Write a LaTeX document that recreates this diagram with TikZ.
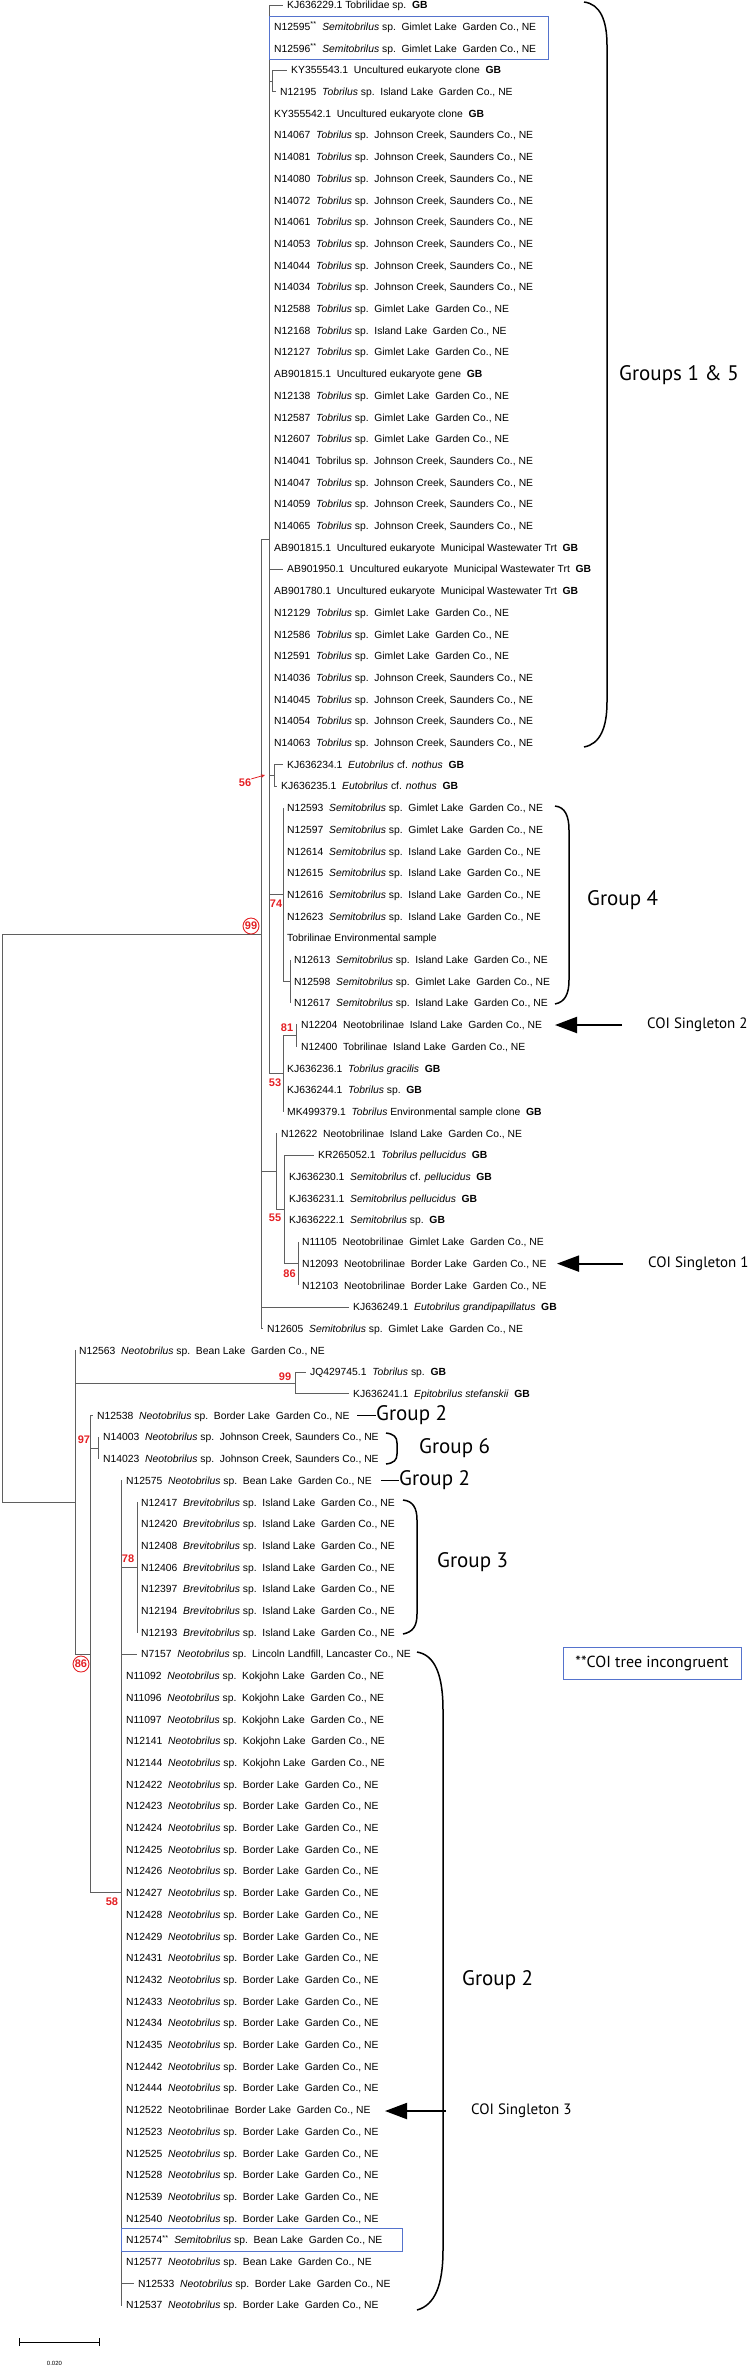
\documentclass[tikz,border=0pt]{standalone}
\usepackage{fontspec}
\setmainfont{Liberation Sans}
\newfontfamily\grpfont{PT Sans}
\usetikzlibrary{arrows.meta}
\definecolor{bsred}{RGB}{228,32,36}
\definecolor{boxblue}{RGB}{85,115,205}
\definecolor{treegray}{RGB}{95,95,95}
\newcommand\gp{\hspace{0.55em}}
\newcommand\sTob{\textit{Tobrilus} sp.}
\newcommand\sSemi{\textit{Semitobrilus} sp.}
\newcommand\sNeo{\textit{Neotobrilus} sp.}
\newcommand\sBrev{\textit{Brevitobrilus} sp.}
\newcommand\lGL{Gimlet Lake\gp Garden Co., NE}
\newcommand\lIL{Island Lake\gp Garden Co., NE}
\newcommand\lJC{Johnson Creek, Saunders Co., NE}
\newcommand\lBL{Border Lake\gp Garden Co., NE}
\newcommand\lBean{Bean Lake\gp Garden Co., NE}
\newcommand\lKok{Kokjohn Lake\gp Garden Co., NE}
\newcommand\GB{\gp\textbf{GB}}
\pgfmathdeclarefunction{rowy}{1}{\pgfmathparse{5+21.7*(#1-1)}}
\newcommand\lf[3]{\node[leaf] (l#1) at (#2,{rowy(#1)}) {#3};}
\begin{document}
\begin{tikzpicture}[x=1pt,y=-1pt,
  leaf/.style={anchor=west, inner sep=0pt, text height=7.4pt, text depth=0pt, font=\fontsize{10.35}{12}\selectfont},
  br/.style={draw=treegray, line width=0.9pt},
  tobr/.style={br, shorten >=4pt},
  bs/.style={text=bsred, font=\bfseries\fontsize{11}{11}\selectfont, inner sep=0pt},
  bsc/.style={bs, circle, draw=bsred, line width=0.9pt, fill=white, minimum size=16pt, inner sep=0pt},
  brace/.style={draw=black, line width=1.5pt},
  grp/.style={anchor=west, inner sep=0pt, font=\grpfont\fontsize{21}{21}\selectfont},
  coi/.style={anchor=west, inner sep=0pt, font=\grpfont\fontsize{15}{15}\selectfont},
  coiarrow/.style={line width=2pt, -{Triangle[length=22pt,width=16pt]}, shorten <=25pt},
  blbox/.style={draw=boxblue, line width=0.9pt}]
\useasboundingbox (0,0) rectangle (747,2366);
% ---------- leaves ----------
\lf{1}{287}{KJ636229.1 Tobrilidae sp.\GB}
\lf{2}{274}{N12595\textsuperscript{**}\gp\sSemi\gp\lGL}
\lf{3}{274}{N12596\textsuperscript{**}\gp\sSemi\gp\lGL}
\lf{4}{291}{KY355543.1\gp Uncultured eukaryote clone\GB}
\lf{5}{280}{N12195\gp\sTob\gp\lIL}
\lf{6}{274}{KY355542.1\gp Uncultured eukaryote clone\GB}
\lf{7}{274}{N14067\gp\sTob\gp\lJC}
\lf{8}{274}{N14081\gp\sTob\gp\lJC}
\lf{9}{274}{N14080\gp\sTob\gp\lJC}
\lf{10}{274}{N14072\gp\sTob\gp\lJC}
\lf{11}{274}{N14061\gp\sTob\gp\lJC}
\lf{12}{274}{N14053\gp\sTob\gp\lJC}
\lf{13}{274}{N14044\gp\sTob\gp\lJC}
\lf{14}{274}{N14034\gp\sTob\gp\lJC}
\lf{15}{274}{N12588\gp\sTob\gp\lGL}
\lf{16}{274}{N12168\gp\sTob\gp\lIL}
\lf{17}{274}{N12127\gp\sTob\gp\lGL}
\lf{18}{274}{AB901815.1\gp Uncultured eukaryote gene\GB}
\lf{19}{274}{N12138\gp\sTob\gp\lGL}
\lf{20}{274}{N12587\gp\sTob\gp\lGL}
\lf{21}{274}{N12607\gp\sTob\gp\lGL}
\lf{22}{274}{N14041\gp Tobrilus sp.\gp\lJC}
\lf{23}{274}{N14047\gp\sTob\gp\lJC}
\lf{24}{274}{N14059\gp\sTob\gp\lJC}
\lf{25}{274}{N14065\gp\sTob\gp\lJC}
\lf{26}{274}{AB901815.1\gp Uncultured eukaryote\gp Municipal Wastewater Trt\GB}
\lf{27}{287}{AB901950.1\gp Uncultured eukaryote\gp Municipal Wastewater Trt\GB}
\lf{28}{274}{AB901780.1\gp Uncultured eukaryote\gp Municipal Wastewater Trt\GB}
\lf{29}{274}{N12129\gp\sTob\gp\lGL}
\lf{30}{274}{N12586\gp\sTob\gp\lGL}
\lf{31}{274}{N12591\gp\sTob\gp\lGL}
\lf{32}{274}{N14036\gp\sTob\gp\lJC}
\lf{33}{274}{N14045\gp\sTob\gp\lJC}
\lf{34}{274}{N14054\gp\sTob\gp\lJC}
\lf{35}{274}{N14063\gp\sTob\gp\lJC}
\lf{36}{287}{KJ636234.1\gp\textit{Eutobrilus} cf. \textit{nothus}\GB}
\lf{37}{281}{KJ636235.1\gp\textit{Eutobrilus} cf. \textit{nothus}\GB}
\lf{38}{287}{N12593\gp\sSemi\gp\lGL}
\lf{39}{287}{N12597\gp\sSemi\gp\lGL}
\lf{40}{287}{N12614\gp\sSemi\gp\lIL}
\lf{41}{287}{N12615\gp\sSemi\gp\lIL}
\lf{42}{287}{N12616\gp\sSemi\gp\lIL}
\lf{43}{287}{N12623\gp\sSemi\gp\lIL}
\lf{44}{287}{Tobrilinae Environmental sample}
\lf{45}{294}{N12613\gp\sSemi\gp\lIL}
\lf{46}{294}{N12598\gp\sSemi\gp\lGL}
\lf{47}{294}{N12617\gp\sSemi\gp\lIL}
\lf{48}{301}{N12204\gp Neotobrilinae\gp\lIL}
\lf{49}{301}{N12400\gp Tobrilinae\gp\lIL}
\lf{50}{287}{KJ636236.1\gp\textit{Tobrilus gracilis}\GB}
\lf{51}{287}{KJ636244.1\gp\sTob\GB}
\lf{52}{287}{MK499379.1\gp\textit{Tobrilus} Environmental sample clone\GB}
\lf{53}{281}{N12622\gp Neotobrilinae\gp\lIL}
\lf{54}{318}{KR265052.1\gp\textit{Tobrilus pellucidus}\GB}
\lf{55}{289}{KJ636230.1\gp\textit{Semitobrilus} cf. \textit{pellucidus}\GB}
\lf{56}{289}{KJ636231.1\gp\textit{Semitobrilus pellucidus}\GB}
\lf{57}{289}{KJ636222.1\gp\sSemi\GB}
\lf{58}{302}{N11105\gp Neotobrilinae\gp\lGL}
\lf{59}{302}{N12093\gp Neotobrilinae\gp\lBL}
\lf{60}{302}{N12103\gp Neotobrilinae\gp\lBL}
\lf{61}{353}{KJ636249.1\gp\textit{Eutobrilus grandipapillatus}\GB}
\lf{62}{267}{N12605\gp\sSemi\gp\lGL}
\lf{63}{79}{N12563\gp\sNeo\gp\lBean}
\lf{64}{310}{JQ429745.1\gp\sTob\GB}
\lf{65}{353}{KJ636241.1\gp\textit{Epitobrilus stefanskii}\GB}
\lf{66}{97}{N12538\gp\sNeo\gp\lBL}
\lf{67}{103}{N14003\gp\sNeo\gp\lJC}
\lf{68}{103}{N14023\gp\sNeo\gp\lJC}
\lf{69}{126}{N12575\gp\sNeo\gp\lBean}
\lf{70}{141}{N12417\gp\sBrev\gp\lIL}
\lf{71}{141}{N12420\gp\sBrev\gp\lIL}
\lf{72}{141}{N12408\gp\sBrev\gp\lIL}
\lf{73}{141}{N12406\gp\sBrev\gp\lIL}
\lf{74}{141}{N12397\gp\sBrev\gp\lIL}
\lf{75}{141}{N12194\gp\sBrev\gp\lIL}
\lf{76}{141}{N12193\gp\sBrev\gp\lIL}
\lf{77}{141}{N7157\gp\sNeo\gp Lincoln Landfill, Lancaster Co., NE}
\lf{78}{126}{N11092\gp\sNeo\gp\lKok}
\lf{79}{126}{N11096\gp\sNeo\gp\lKok}
\lf{80}{126}{N11097\gp\sNeo\gp\lKok}
\lf{81}{126}{N12141\gp\sNeo\gp\lKok}
\lf{82}{126}{N12144\gp\sNeo\gp\lKok}
\lf{83}{126}{N12422\gp\sNeo\gp\lBL}
\lf{84}{126}{N12423\gp\sNeo\gp\lBL}
\lf{85}{126}{N12424\gp\sNeo\gp\lBL}
\lf{86}{126}{N12425\gp\sNeo\gp\lBL}
\lf{87}{126}{N12426\gp\sNeo\gp\lBL}
\lf{88}{126}{N12427\gp\sNeo\gp\lBL}
\lf{89}{126}{N12428\gp\sNeo\gp\lBL}
\lf{90}{126}{N12429\gp\sNeo\gp\lBL}
\lf{91}{126}{N12431\gp\sNeo\gp\lBL}
\lf{92}{126}{N12432\gp\sNeo\gp\lBL}
\lf{93}{126}{N12433\gp\sNeo\gp\lBL}
\lf{94}{126}{N12434\gp\sNeo\gp\lBL}
\lf{95}{126}{N12435\gp\sNeo\gp\lBL}
\lf{96}{126}{N12442\gp\sNeo\gp\lBL}
\lf{97}{126}{N12444\gp\sNeo\gp\lBL}
\lf{98}{126}{N12522\gp Neotobrilinae\gp\lBL}
\lf{99}{126}{N12523\gp\sNeo\gp\lBL}
\lf{100}{126}{N12525\gp\sNeo\gp\lBL}
\lf{101}{126}{N12528\gp\sNeo\gp\lBL}
\lf{102}{126}{N12539\gp\sNeo\gp\lBL}
\lf{103}{126}{N12540\gp\sNeo\gp\lBL}
\lf{104}{126}{N12574\textsuperscript{**}\gp\sSemi\gp\lBean}
\lf{105}{126}{N12577\gp\sNeo\gp\lBean}
\lf{106}{138}{N12533\gp\sNeo\gp\lBL}
\lf{107}{126}{N12537\gp\sNeo\gp\lBL}
% ---------- internal nodes ----------
\coordinate (root) at (2,1218.15);
\coordinate (n99) at (261,934.0);
\coordinate (nP) at (269,539.35);
\coordinate (n45) at (272,80.95);
\coordinate (n56) at (274,775.35);
\coordinate (n74) at (283,894.7);
\coordinate (n4s) at (290,981.5);
\coordinate (n53) at (283,1073.7);
\coordinate (n81) at (296,1035.75);
\coordinate (n276) at (276,1171.4);
\coordinate (n55) at (284,1209.35);
\coordinate (n86) at (298,1263.6);
\coordinate (nQ) at (75,1502.3);
\coordinate (n99b) at (295,1382.95);
\coordinate (nR) at (90,1654.15);
\coordinate (n97) at (98,1448.05);
\coordinate (nS) at (121,1892.8);
\coordinate (n78) at (137,1567.4);
% ---------- branches ----------
\draw[br] (root) |- (n99);
\draw[br] (root) |- (nQ);
\foreach \c in {nP,n276} \draw[br] (n99) |- (\c);
\foreach \c in {61,62} \draw[tobr] (n99) |- (l\c.west);
\foreach \c in {n45,n56,n74,n53} \draw[br] (nP) |- (\c);
\foreach \c in {1,2,3,6,7,...,35} \draw[tobr] (nP) |- (l\c.west);
\foreach \c in {4,5} \draw[tobr] (n45) |- (l\c.west);
\foreach \c in {36,37} \draw[tobr] (n56) |- (l\c.west);
\draw[br] (n74) |- (n4s);
\foreach \c in {38,...,44} \draw[tobr] (n74) |- (l\c.west);
\foreach \c in {45,46,47} \draw[tobr] (n4s) |- (l\c.west);
\draw[br] (n53) |- (n81);
\foreach \c in {50,51,52} \draw[tobr] (n53) |- (l\c.west);
\foreach \c in {48,49} \draw[tobr] (n81) |- (l\c.west);
\draw[br] (n276) |- (n55);
\draw[tobr] (n276) |- (l53.west);
\draw[br] (n55) |- (n86);
\foreach \c in {54,...,57} \draw[tobr] (n55) |- (l\c.west);
\foreach \c in {58,59,60} \draw[tobr] (n86) |- (l\c.west);
\foreach \c in {n99b,nR} \draw[br] (nQ) |- (\c);
\draw[tobr] (nQ) |- (l63.west);
\foreach \c in {64,65} \draw[tobr] (n99b) |- (l\c.west);
\foreach \c in {n97,nS} \draw[br] (nR) |- (\c);
\draw[tobr] (nR) |- (l66.west);
\foreach \c in {67,68} \draw[tobr] (n97) |- (l\c.west);
\draw[br] (nS) |- (n78);
\foreach \c in {69,77,78,...,107} \draw[tobr] (nS) |- (l\c.west);
\foreach \c in {70,...,76} \draw[tobr] (n78) |- (l\c.west);
% ---------- bootstrap values ----------
\node[bsc] (b99) at (251,926) {99};
\node[bs] (b56) at (245,783) {56};
\coordinate (a56) at (265,775);
\draw[bsred, line width=0.8pt, -{Stealth[length=4pt,width=3.5pt]}] (b56.north east) -- (a56);
\node[bs] (b74) at (276,904) {74};
\node[bs] (b81) at (287,1028) {81};
\node[bs] (b53) at (275,1083) {53};
\node[bs] (b55) at (275,1218) {55};
\node[bs] (b86) at (289.5,1274) {86};
\node[bs] (b99b) at (285,1377) {99};
\node[bs] (b97) at (84,1440) {97};
\node[bs] (b78) at (128,1559) {78};
\node[bsc] (b86c) at (81,1664) {86};
\node[bs] (b58) at (112,1902) {58};
% ---------- blue boxes ----------
\draw[blbox] (269,16) rectangle (548,59);
\draw[blbox] (121,2228.5) rectangle (402,2251.5);
\node[draw=boxblue, line width=0.9pt, minimum width=178pt, minimum height=32pt, inner sep=0pt,
      font=\grpfont\fontsize{16}{16}\selectfont] (coibox) at (652,1663) {**COI tree incongruent};
% ---------- brackets and group labels ----------
\draw[brace] (584,2) .. controls (600,4) and (607,20) .. (607,45) -- (607,702) .. controls (607,728) and (600,744) .. (584,747);
\node[grp] (g15) at (619,375) {Groups 1 \& 5};
\draw[brace] (555,806) .. controls (565,807) and (569,816) .. (569,830) -- (569,980) .. controls (569,994) and (565,1002) .. (555,1004);
\node[grp] (g4) at (587,900) {Group 4};
\coordinate (d2a) at (357,1415.5);
\node[grp] (g2a) at (376,1415.5) {Group 2};
\draw[line width=1.4pt] (d2a) -- (g2a.west);
\draw[brace] (386,1433) .. controls (394,1434) and (397,1437) .. (397,1443) -- (397,1454) .. controls (397,1460) and (394,1463) .. (386,1464);
\node[grp] (g6) at (419,1448) {Group 6};
\coordinate (d2b) at (381,1480.6);
\node[grp] (g2b) at (399,1480.6) {Group 2};
\draw[line width=1.4pt] (d2b) -- (g2b.west);
\draw[brace] (403,1500) .. controls (413,1501) and (417,1508) .. (417,1520) -- (417,1614) .. controls (417,1626) and (413,1632) .. (403,1634);
\node[grp] (g3) at (437,1562) {Group 3};
\draw[brace] (417,1652) .. controls (435,1655) and (443,1675) .. (443,1710) -- (443,2250) .. controls (443,2285) and (435,2305) .. (417,2310);
\node[grp] (g2c) at (462,1980) {Group 2};
% ---------- COI singletons ----------
\node[coi] (coi2) at (647,1025) {COI Singleton 2};
\coordinate (t2) at (555,1025);
\draw[coiarrow] (coi2.west) -- (t2);
\node[coi] (coi1) at (648,1263.6) {COI Singleton 1};
\coordinate (t1) at (557,1263.6);
\draw[coiarrow] (coi1.west) -- (t1);
\node[coi] (coi3) at (471,2111) {COI Singleton 3};
\coordinate (t3) at (385,2111);
\draw[coiarrow] (coi3.west) -- (t3);
% ---------- scale bar ----------
\coordinate (sb1) at (19,2342);
\coordinate (sb2) at (99,2342);
\draw[line width=0.9pt] (sb1) -- (sb2);
\draw[line width=0.9pt] ([yshift=-4pt]sb1) -- ([yshift=4pt]sb1);
\draw[line width=0.9pt] ([yshift=-4pt]sb2) -- ([yshift=4pt]sb2);
\node[font=\fontsize{6}{6}\selectfont, inner sep=0pt] (sbl) at (54.5,2363) {0.020};
\end{tikzpicture}
\end{document}
